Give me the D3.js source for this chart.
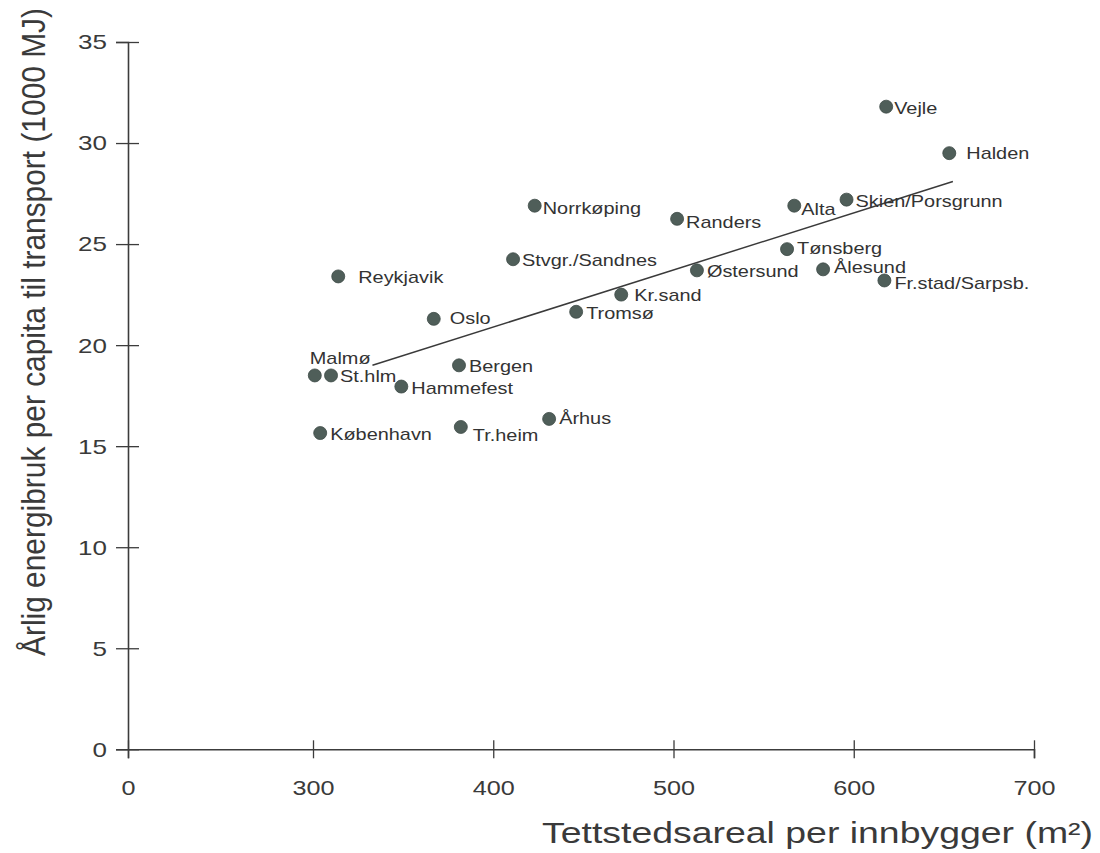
<!DOCTYPE html>
<html>
<head>
<meta charset="utf-8">
<script src="https://cdn.jsdelivr.net/npm/d3@7"></script>
<style>
  html, body { margin: 0; padding: 0; background: #ffffff; }
  svg { display: block; }
  text { font-family: "Liberation Sans", Arial, Helvetica, sans-serif; fill: #3a3a3a; }
</style>
</head>
<body>
<svg id="chart" width="1100" height="853"></svg>
<script>
// ---- data ----
const cities = ["Vejle", "Halden", "Norrkøping", "Randers", "Alta", "Skien/Porsgrunn", "Tønsberg",
  "Stvgr./Sandnes", "Østersund", "Ålesund", "Fr.stad/Sarpsb.", "Kr.sand", "Tromsø", "Reykjavik",
  "Oslo", "Bergen", "Malmø", "St.hlm", "Hammefest", "Århus", "København", "Tr.heim"];
const areaPerInhabitant = [618, 653, 423, 502, 567, 596, 563, 411, 513, 583, 617, 471, 446, 314,
  367, 381, 301, 310, 349, 431, 304, 382];
const energyPerCapita = [31.8, 29.5, 26.9, 26.25, 26.9, 27.2, 24.75, 24.25, 23.7, 23.75, 23.2, 22.5,
  21.65, 23.4, 21.3, 19.0, 18.5, 18.5, 17.95, 16.35, 15.65, 15.95];
const trendX = [333, 655];
const trendY = [19.0, 28.1];
const xTicks = [0, 300, 400, 500, 600, 700];
const yTicks = [0, 5, 10, 15, 20, 25, 30, 35];
const xTitle = "Tettstedsareal per innbygger (m²)";
const yTitle = "Årlig energibruk per capita til transport (1000 MJ)";

// ---- layout (label offsets from the dot centre) ----
const labelOffset = {
  "Vejle": [8, 1], "Halden": [17, 0], "Norrkøping": [8, 2], "Randers": [9, 3], "Alta": [7, 3],
  "Skien/Porsgrunn": [9, 1], "Tønsberg": [10, -1], "Stvgr./Sandnes": [9, 1], "Østersund": [10, 1],
  "Ålesund": [11, -2], "Fr.stad/Sarpsb.": [10, 3], "Kr.sand": [13, 0], "Tromsø": [10, 1],
  "Reykjavik": [20, 1], "Oslo": [16, -1], "Bergen": [10, 1], "Malmø": [-5, -17], "St.hlm": [9, 1],
  "Hammefest": [10, 1], "Århus": [10, -1], "København": [10, 1], "Tr.heim": [12, 8]
};

const svg = d3.select("#chart");

const x = d3.scaleLinear().domain([0, 300, 700]).range([128, 313, 1034]);
const y = d3.scaleLinear().domain([0, 35]).range([749.3, 42]);

const axisColor = "#3c3c3c";

// y axis
const gy = svg.append("g").attr("transform", `translate(${x(0)},0)`)
  .call(d3.axisLeft(y).tickValues(yTicks).tickSizeOuter(0).tickSize(12).tickPadding(0));
gy.select(".domain").attr("stroke", axisColor).attr("stroke-width", 1.6);
gy.selectAll(".tick line").attr("x1", 11).attr("x2", -12).attr("stroke", axisColor).attr("stroke-width", 1.3);
gy.selectAll(".tick text")
  .attr("x", null).attr("dy", null)
  .attr("text-anchor", "end")
  .attr("dominant-baseline", "central")
  .attr("transform", "translate(-21,0) scale(1.3,1)")
  .style("font-size", "20px").style("fill", "#3a3a3a")
  .style("font-family", '"Liberation Sans", Arial, sans-serif');

// x axis
const gx = svg.append("g").attr("transform", `translate(0,${y(0)})`)
  .call(d3.axisBottom(x).tickValues(xTicks).tickSizeOuter(0).tickSize(9).tickPadding(0));
gx.select(".domain").attr("stroke", axisColor).attr("stroke-width", 1.6);
gx.selectAll(".tick line").attr("y1", -9).attr("y2", 9).attr("stroke", axisColor).attr("stroke-width", 1.3);
gx.selectAll(".tick text")
  .attr("y", null).attr("dy", null)
  .attr("text-anchor", "middle")
  .attr("transform", "translate(0,46) scale(1.2,1)")
  .style("font-size", "21px").style("fill", "#3a3a3a")
  .style("font-family", '"Liberation Sans", Arial, sans-serif');

// trend line
const trend = trendX.map((v, i) => [v, trendY[i]]);
svg.append("path")
  .datum(trend)
  .attr("d", d3.line().x(d => x(d[0])).y(d => y(d[1])))
  .attr("fill", "none").attr("stroke", "#3a3a3a").attr("stroke-width", 1.5);

// points
const pts = cities.map((c, i) => ({ name: c, xv: areaPerInhabitant[i], yv: energyPerCapita[i] }));

svg.append("g").selectAll("circle").data(pts).join("circle")
  .attr("cx", d => x(d.xv)).attr("cy", d => y(d.yv))
  .attr("r", 6.5)
  .attr("fill", "#4f5e59").attr("stroke", "#3e4a46").attr("stroke-width", 0.8);

svg.append("g").selectAll("text").data(pts).join("text")
  .attr("transform", d => {
    const o = labelOffset[d.name];
    return `translate(${x(d.xv) + o[0]},${y(d.yv) + o[1]}) scale(1.17,1)`;
  })
  .attr("dominant-baseline", "central")
  .style("font-size", "17px").style("fill", "#333")
  .text(d => d.name);

// axis titles
svg.append("text")
  .attr("x", 542).attr("y", 843)
  .attr("textLength", 551).attr("lengthAdjust", "spacingAndGlyphs")
  .style("font-size", "29px").style("fill", "#3a3a3a")
  .text(xTitle);

svg.append("text")
  .attr("transform", "translate(45,656) rotate(-90) scale(1,1.1)")
  .attr("textLength", 648).attr("lengthAdjust", "spacingAndGlyphs")
  .style("font-size", "30px").style("fill", "#3a3a3a")
  .text(yTitle);
</script>
</body>
</html>
